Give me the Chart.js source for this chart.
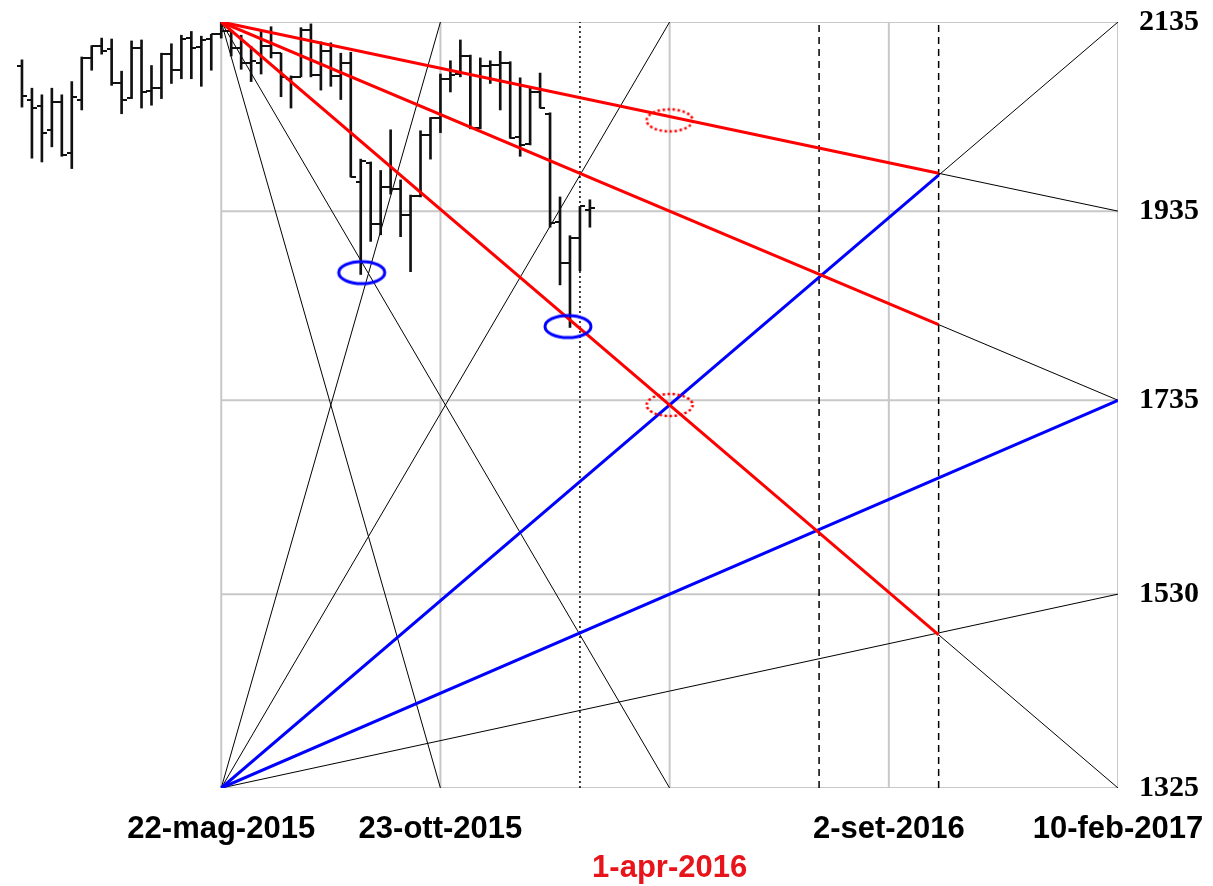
<!DOCTYPE html>
<html>
<head>
<meta charset="utf-8">
<title>Gann fan</title>
<script src="https://cdn.jsdelivr.net/npm/chart.js@4.4.1/dist/chart.umd.min.js"></script>
<style>
  html, body { margin: 0; padding: 0; background: #fff; }
  #wrap { width: 1213px; height: 886px; }
</style>
</head>
<body>
<div id="wrap"><canvas id="gann"></canvas></div>
<script>
// weekly bars, x = weeks from 22-mag-2015
const weeks = [-20, -19, -18, -17, -16, -15, -14, -13, -12, -11, -10, -9, -8, -7, -6, -5, -4, -3, -2, -1,
  0, 1, 2, 3, 4, 5, 6, 7, 8, 9, 10, 11, 12, 13, 14, 15, 16, 17, 18, 19,
  20, 21, 22, 23, 24, 25, 26, 27, 28, 29, 30, 31, 32, 33, 34, 35, 36, 37];
const opens = [2088, 2053, 2046, 2021, 2050, 1996, 2052, 2097, 2110, 2106, 2070, 2055, 2108, 2062, 2065, 2101, 2084, 2118, 2109, 2117,
  2122, 2125, 2108, 2092, 2092, 2110, 2102, 2075, 2077, 2127, 2079, 2104, 2078, 2092, 1966, 1986, 1921, 1961, 1958, 1931,
  1951, 2015, 2033, 2075, 2080, 2099, 2023, 2089, 2090, 2092, 2013, 2006, 2061, 2038, 1923, 1880, 1907, 1936];
const highs = [2095, 2065, 2058, 2065, 2058, 2072, 2098, 2110, 2118, 2117, 2083, 2115, 2116, 2089, 2102, 2112, 2121, 2125, 2120, 2122,
  2135, 2126, 2121, 2109, 2126, 2130, 2102, 2078, 2129, 2133, 2114, 2113, 2102, 2103, 1990, 1987, 1978, 2021, 1968, 1952,
  2020, 2034, 2080, 2094, 2116, 2100, 2097, 2094, 2104, 2093, 2076, 2067, 2081, 2039, 1950, 1909, 1940, 1947];
const lows = [2045, 1991, 1987, 2003, 1993, 1980, 2042, 2084, 2101, 2068, 2038, 2054, 2044, 2047, 2054, 2070, 2075, 2075, 2067, 2084,
  2118, 2099, 2085, 2072, 2080, 2097, 2056, 2044, 2077, 2077, 2063, 2067, 2053, 1971, 1868, 1903, 1910, 1953, 1908, 1871,
  1950, 1990, 2018, 2061, 2077, 2022, 2022, 2070, 2042, 2012, 1993, 2005, 2044, 1918, 1857, 1812, 1872, 1918];
const closes = [2057, 2044, 2018, 2050, 1994, 2056, 2097, 2110, 2104, 2070, 2052, 2108, 2061, 2065, 2101, 2084, 2117, 2108, 2116, 2122,
  2126, 2107, 2092, 2094, 2110, 2102, 2077, 2077, 2127, 2079, 2104, 2078, 2092, 1971, 1988, 1921, 1961, 1958, 1931, 1951,
  2015, 2033, 2075, 2079, 2099, 2023, 2089, 2090, 2092, 2012, 2005, 2061, 2044, 1922, 1880, 1907, 1940, 1938];

const priceLevels = [1325, 1530, 1735, 1935, 2135];
const dateWeeks = [0, 22, 45, 67, 90];
const dateLabels = ['22-mag-2015', '23-ott-2015', '1-apr-2016', '2-set-2016', '10-feb-2017'];

// fan lines: [week1, price1, week2, price2]
const blackFan = [
  [0, 2135, 90, 1935], [0, 2135, 90, 1735], [0, 2135, 90, 1325], [0, 2135, 45, 1325], [0, 2135, 22, 1325],
  [0, 1325, 90, 2135], [0, 1325, 90, 1530], [0, 1325, 22, 2135], [0, 1325, 45, 2135]
];
const redFan = [[0, 2135, 72, 1975], [0, 2135, 72, 1815], [0, 2135, 72, 1487]];
const blueFan = [[0, 1325, 72, 1973], [0, 1325, 90, 1735]];
const dottedWeeks = [36];
const dashedWeeks = [60, 72];
const blueRings = [[14.1, 1870], [34.8, 1813]];
const redRings = [[45, 2031], [45, 1730]];

const RED = '#ff0000';
const BLUE = '#0000ff';
const LABEL_RED = '#e8141c';

function tickImage(side) {
  const c = document.createElement('canvas');
  c.width = 10; c.height = 2;
  const g = c.getContext('2d');
  g.fillStyle = '#111';
  g.fillRect(side === 'left' ? 0 : 5, 0, 5, 2);
  return c;
}

function ringImage(color, dotted) {
  const c = document.createElement('canvas');
  c.width = 54; c.height = 30;
  const g = c.getContext('2d');
  g.strokeStyle = color;
  g.lineWidth = dotted ? 2.5 : 3;
  if (dotted) g.setLineDash([2.5, 2.5]);
  g.beginPath();
  g.ellipse(27, 15, 23, 11, 0, 0, Math.PI * 2);
  g.stroke();
  return c;
}

function segment(s, color, width, order, dash) {
  return {
    type: 'line',
    data: [{ x: s[0], y: s[1] }, { x: s[2], y: s[3] }],
    borderColor: color, borderWidth: width, borderDash: dash || [],
    pointRadius: 0, fill: false, tension: 0, order: order
  };
}

const datasets = [];
// box and grid
priceLevels.forEach(p => datasets.push(segment([0, p, 90, p], '#c8c8c8', 2, 7)));
dateWeeks.forEach(w => datasets.push(segment([w, 1325, w, 2135], '#c8c8c8', 2, 7)));
// marker verticals
dottedWeeks.forEach(w => datasets.push(segment([w, 1325, w, 2135], '#000', 1.5, 6, [2, 3])));
dashedWeeks.forEach(w => datasets.push(segment([w, 1325, w, 2135], '#000', 1.5, 6, [7, 5])));
// fan
blackFan.forEach(s => datasets.push(segment(s, '#000', 1, 5)));
redFan.forEach(s => datasets.push(segment(s, RED, 3, 1)));
blueFan.forEach(s => datasets.push(segment(s, BLUE, 3, 1)));

// price bars
datasets.push({
  type: 'bar',
  data: weeks.map((w, i) => ({ x: w, y: [lows[i], highs[i]] })),
  backgroundColor: '#111', borderWidth: 0, barThickness: 2, grouped: false, order: 4
});
datasets.push({
  type: 'line', showLine: false,
  data: weeks.map((w, i) => ({ x: w, y: opens[i] })),
  pointStyle: tickImage('left'), pointRadius: 5, order: 3
});
datasets.push({
  type: 'line', showLine: false,
  data: weeks.map((w, i) => ({ x: w, y: closes[i] })),
  pointStyle: tickImage('right'), pointRadius: 5, order: 3
});

// rings
datasets.push({
  type: 'line', showLine: false,
  data: blueRings.map(r => ({ x: r[0], y: r[1] })),
  pointStyle: ringImage(BLUE, false), pointRadius: 10, order: 0
});
datasets.push({
  type: 'line', showLine: false,
  data: redRings.map(r => ({ x: r[0], y: r[1] })),
  pointStyle: ringImage(RED, true), pointRadius: 10, order: 0
});

new Chart(document.getElementById('gann'), {
  type: 'line',
  data: { datasets },
  options: {
    responsive: true,
    maintainAspectRatio: false,
    animation: false,
    events: [],
    layout: { padding: { left: 3, top: 22, right: 0, bottom: 0 } },
    plugins: { legend: { display: false }, tooltip: { enabled: false } },
    scales: {
      x: {
        type: 'linear', min: -21.1, max: 90, offset: false,
        grid: { display: false, drawTicks: false }, border: { display: false },
        afterBuildTicks: scale => { scale.ticks = dateWeeks.map(v => ({ value: v })); },
        afterFit: scale => { scale.height = 98; scale.paddingLeft = 0; scale.paddingRight = 0; },
        ticks: {
          autoSkip: false, maxRotation: 0, minRotation: 0, padding: 22,
          font: { family: 'Liberation Sans', size: 31, weight: 'bold', lineHeight: 1.25 },
          color: ctx => (ctx.index === 2 ? LABEL_RED : '#000'),
          callback: (v, i) => (i === 2 ? ['', dateLabels[i]] : dateLabels[i])
        }
      },
      y: {
        type: 'linear', position: 'right', min: 1325, max: 2135,
        grid: { display: false, drawTicks: false }, border: { display: false },
        afterBuildTicks: scale => { scale.ticks = priceLevels.map(v => ({ value: v })); },
        afterFit: scale => { scale.width = 95; scale.paddingTop = 0; scale.paddingBottom = 0; },
        ticks: {
          padding: 21, color: '#000',
          font: { family: 'Liberation Serif', size: 30, weight: 'bold' },
          callback: v => String(v)
        }
      }
    }
  }
});
</script>
</body>
</html>
